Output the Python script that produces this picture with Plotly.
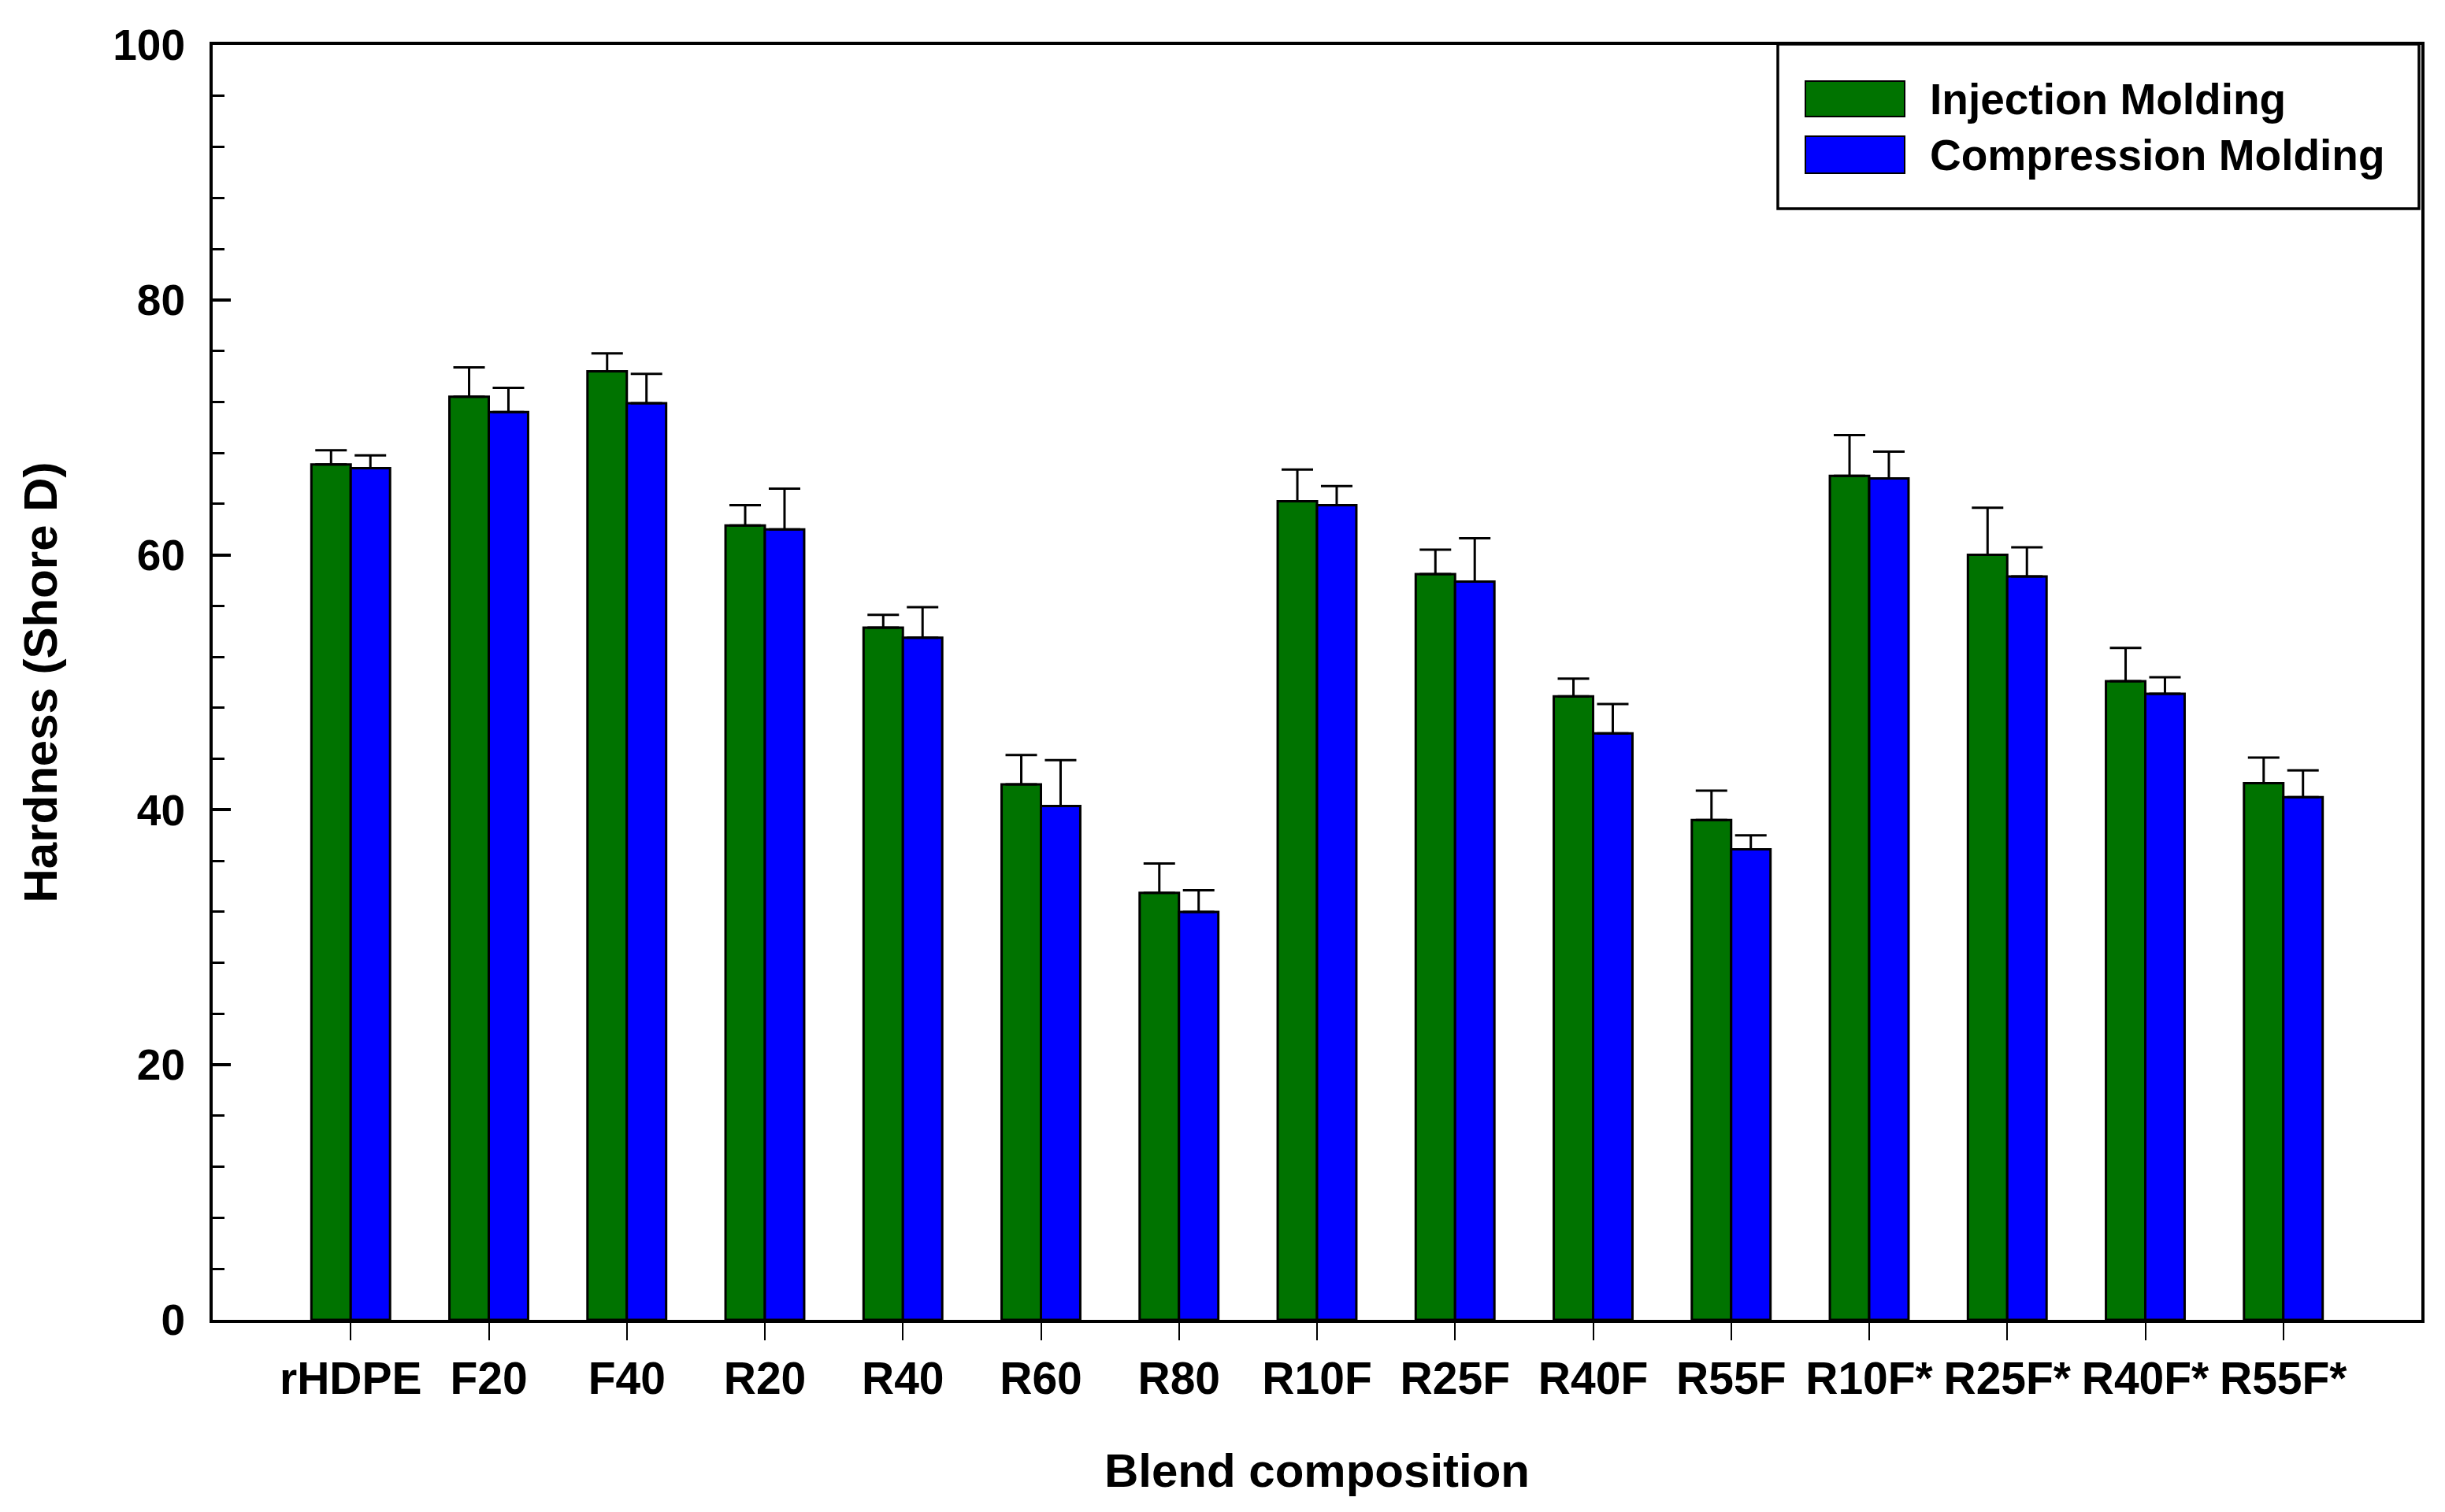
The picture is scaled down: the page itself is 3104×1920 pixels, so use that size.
import plotly.graph_objects as go

categories = ["rHDPE", "F20", "F40", "R20", "R40", "R60", "R80", "R10F", "R25F",
              "R40F", "R55F", "R10F*", "R25F*", "R40F*", "R55F*"]
injection = [67.1, 72.4, 74.4, 62.3, 54.3, 42.0, 33.5, 64.2, 58.5, 48.9, 39.2, 66.2, 60.0, 50.1, 42.1]
injection_err = [1.1, 2.3, 1.4, 1.6, 1.0, 2.3, 2.3, 2.5, 1.9, 1.4, 2.3, 3.2, 3.7, 2.6, 2.0]
compression = [66.8, 71.2, 71.9, 62.0, 53.5, 40.3, 32.0, 63.9, 57.9, 46.0, 36.9, 66.0, 58.3, 49.1, 41.0]
compression_err = [1.0, 1.9, 2.3, 3.2, 2.4, 3.6, 1.7, 1.5, 3.4, 2.3, 1.1, 2.1, 2.3, 1.3, 2.1]

series_names = ["Injection Molding", "Compression Molding"]
GREEN = "#007300"
BLUE = "#0000FF"
FONT = "Liberation Sans, Arial, sans-serif"

W, H = 3104, 1920
L, R, T, B = 262, 38, 49, 252

fig = go.Figure()
for name, vals, errs, col in [(series_names[0], injection, injection_err, GREEN),
                              (series_names[1], compression, compression_err, BLUE)]:
    fig.add_trace(go.Bar(
        x=categories, y=vals, name=name,
        marker=dict(color=col, line=dict(color="black", width=3)),
        error_y=dict(type="data", symmetric=False, array=errs,
                     arrayminus=[0] * len(errs), color="black",
                     thickness=3, width=20),
        showlegend=False,
    ))

pw = W - L - R
ph = H - T - B
def px(xp):
    return (xp - L) / pw
def py(yp):
    return (H - B - yp) / ph

shapes = [
    dict(type="rect", xref="paper", yref="paper", x0=px(2249), x1=px(3063),
         y0=py(257), y1=py(48), line=dict(color="black", width=3.5), fillcolor="white",
         layer="above"),
    dict(type="rect", xref="paper", yref="paper", x0=px(2284), x1=px(2410),
         y0=py(140), y1=py(95), line=dict(color="black", width=2), fillcolor=GREEN,
         layer="above"),
    dict(type="rect", xref="paper", yref="paper", x0=px(2284), x1=px(2410),
         y0=py(212), y1=py(165), line=dict(color="black", width=2), fillcolor=BLUE,
         layer="above"),
]
annotations = [
    dict(text=series_names[0], xref="paper", yref="paper", x=px(2440), y=py(118),
         xanchor="left", yanchor="middle", showarrow=False,
         font=dict(family=FONT, size=55, color="black", weight="bold")),
    dict(text=series_names[1], xref="paper", yref="paper", x=px(2440), y=py(189),
         xanchor="left", yanchor="middle", showarrow=False,
         font=dict(family=FONT, size=55, color="black", weight="bold")),
]

fig.update_layout(
    width=W, height=H,
    margin=dict(l=L, r=R, t=T, b=B, autoexpand=False),
    paper_bgcolor="white", plot_bgcolor="white",
    barmode="group", bargap=0.43, bargroupgap=0.0,
    font=dict(family=FONT, color="black"),
    shapes=shapes, annotations=annotations,
    showlegend=False,
)
fig.update_xaxes(
    type="category", range=[-1, len(categories)],
    showline=True, linecolor="black", linewidth=4, mirror=True,
    ticks="outside", ticklen=22, tickwidth=2, tickcolor="black",
    tickfont=dict(family=FONT, size=57, color="black", weight="bold"),
    showgrid=False, zeroline=False,
    title=dict(text="Blend composition", standoff=66,
               font=dict(family=FONT, size=60, color="black", weight="bold")),
    automargin=False,
)
fig.update_yaxes(
    range=[0, 100], dtick=20, tick0=0,
    showline=True, linecolor="black", linewidth=4, mirror=True,
    ticks="inside", ticklen=23, tickwidth=4, tickcolor="black",
    minor=dict(dtick=4, ticks="inside", ticklen=15, tickwidth=3, tickcolor="black", showgrid=False),
    tickfont=dict(family=FONT, size=55, color="black", weight="bold"),
    ticklabelstandoff=20,
    showgrid=False, zeroline=False,
    title=dict(text="Hardness (Shore D)", standoff=52,
               font=dict(family=FONT, size=60, color="black", weight="bold")),
    automargin=False,
)

fig.write_html("out.html")
